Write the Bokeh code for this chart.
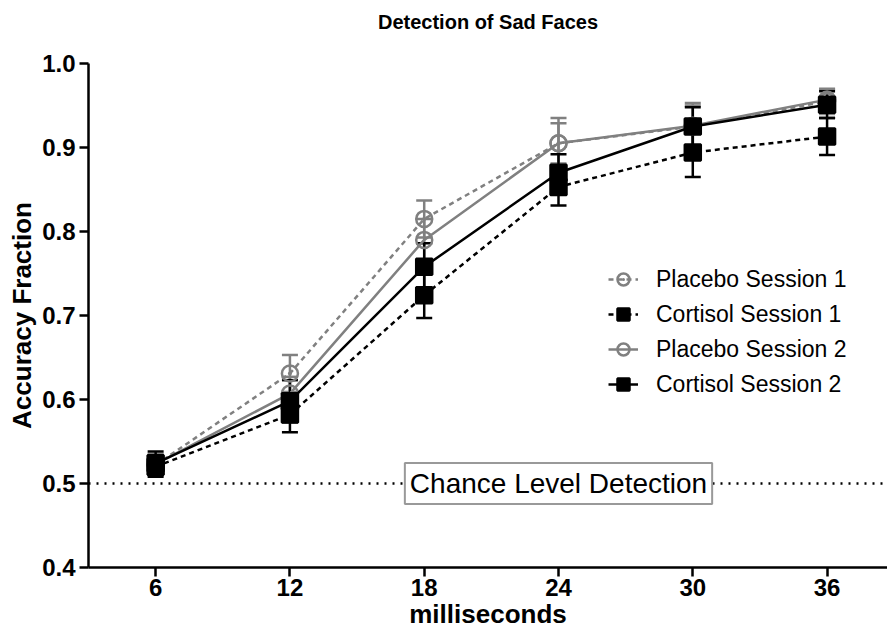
from bokeh.plotting import figure
from bokeh.models import (ColumnDataSource, Whisker, TeeHead, Span, Label, Legend,
                          LegendItem, Range1d, FixedTicker, PrintfTickFormatter, Title)
from bokeh.embed import file_html
from bokeh.resources import INLINE

# ---- data ----
ms = [6, 12, 18, 24, 30, 36]
placebo_s1 = [0.522, 0.631, 0.815, 0.905, 0.925, 0.955]
placebo_s1_err = [0.012, 0.022, 0.022, 0.030, 0.028, 0.015]
cortisol_s1 = [0.520, 0.582, 0.724, 0.853, 0.894, 0.913]
cortisol_s1_err = [0.012, 0.021, 0.027, 0.022, 0.029, 0.022]
placebo_s2 = [0.523, 0.607, 0.790, 0.905, 0.926, 0.957]
placebo_s2_err = [0.012, 0.020, 0.025, 0.024, 0.024, 0.012]
cortisol_s2 = [0.524, 0.598, 0.758, 0.870, 0.925, 0.951]
cortisol_s2_err = [0.014, 0.025, 0.028, 0.022, 0.023, 0.016]
chance_level = 0.5
x_ticks = [6, 12, 18, 24, 30, 36]
y_ticks = [0.4, 0.5, 0.6, 0.7, 0.8, 0.9, 1.0]
title_text = "Detection of Sad Faces"

FONT = "Liberation Sans"
GRAY = "#808080"
X0, X1, Y0, Y1 = 3, 38.7, 0.4, 1.0

p = figure(width=887, height=632, output_backend="svg", toolbar_location=None,
           x_range=Range1d(X0, X1), y_range=Range1d(Y0, Y1),
           min_border_left=88, min_border_right=0, min_border_top=62, min_border_bottom=65,
           title=title_text)
p.title.text_font = FONT
p.title.text_font_size = "20px"
p.title.text_font_style = "bold"
p.title.text_color = "black"
p.title.align = "center"
p.title.standoff = 16
# empty spacer between the title and the plot frame
p.add_layout(Title(text=" ", text_font_size="2px", standoff=19), "above")
p.outline_line_color = None
p.grid.visible = False
p.background_fill_color = "white"

for ax in (p.xaxis[0], p.yaxis[0]):
    ax.axis_line_width = 2.5
    ax.major_tick_line_width = 2.5
    ax.major_tick_out = 9
    ax.major_tick_in = 0
    ax.minor_tick_line_color = None
    ax.major_label_text_font = FONT
    ax.major_label_text_font_style = "bold"
    ax.major_label_text_font_size = "24px"
    ax.major_label_text_color = "black"
    ax.axis_label_text_font = FONT
    ax.axis_label_text_font_style = "bold"
    ax.axis_label_text_font_size = "26px"
    ax.axis_label_text_color = "black"
    ax.major_label_standoff = 4
    ax.axis_label_standoff = 2
p.xaxis.major_label_standoff = 2
p.xaxis.axis_label_standoff = 0

p.xaxis.ticker = FixedTicker(ticks=x_ticks)
p.yaxis.ticker = FixedTicker(ticks=y_ticks)
p.yaxis.formatter = PrintfTickFormatter(format="%.1f")
p.xaxis.axis_label = "milliseconds"
p.yaxis.axis_label = "Accuracy Fraction"

# chance line
p.add_layout(Span(location=chance_level, dimension="width", line_color="black",
                  line_width=2.5, line_dash="2 6"))

series = [
    ("Placebo Session 1", placebo_s1, placebo_s1_err, GRAY, "5 4", "circle_dot", None),
    ("Placebo Session 2", placebo_s2, placebo_s2_err, GRAY, "solid", "circle", None),
    ("Cortisol Session 1", cortisol_s1, cortisol_s1_err, "black", "5 4", "square", "black"),
    ("Cortisol Session 2", cortisol_s2, cortisol_s2_err, "black", "solid", "square", "black"),
]

items = {}
for name, vals, errs, col, dash, marker, fill in series:
    src = ColumnDataSource(dict(x=ms, y=vals,
                                upper=[v + e for v, e in zip(vals, errs)],
                                lower=[v - e for v, e in zip(vals, errs)]))
    ln = p.line("x", "y", source=src, line_color=col, line_width=2.5, line_dash=dash)
    w = Whisker(source=src, base="x", upper="upper", lower="lower",
                line_color=col, line_width=2.5,
                upper_head=TeeHead(size=16, line_color=col, line_width=2.5),
                lower_head=TeeHead(size=16, line_color=col, line_width=2.5))
    p.add_layout(w)
    sc = p.scatter("x", "y", source=src, marker=marker, size=16, line_color=col,
                   line_width=2.5, fill_color=fill)
    items[name] = [ln, sc]

order = ["Placebo Session 1", "Cortisol Session 1", "Placebo Session 2", "Cortisol Session 2"]
legend = Legend(items=[LegendItem(label=n, renderers=items[n]) for n in order],
                location=(520, 168), orientation="vertical",
                label_text_font=FONT, label_text_font_size="23px", label_text_color="black",
                glyph_width=30, glyph_height=30, label_height=30, spacing=5,
                label_standoff=18, padding=5, margin=0,
                border_line_color=None, background_fill_alpha=0)
p.add_layout(legend)

# chance level box (shadow + box)
txt = "Chance Level Detection"
p.add_layout(Label(x=24, y=chance_level, text=txt, text_align="center", text_baseline="middle",
                   text_font=FONT, text_font_size="28px", text_alpha=0,
                   background_fill_color="#a0a0a0", padding=5, x_offset=3, y_offset=-3))
p.add_layout(Label(x=24, y=chance_level, text=txt, text_align="center", text_baseline="middle",
                   text_font=FONT, text_font_size="28px", text_color="black",
                   background_fill_color="white", border_line_color="#999999",
                   border_line_width=2, padding=5))

open("out.html", "w").write(file_html(p, INLINE))
